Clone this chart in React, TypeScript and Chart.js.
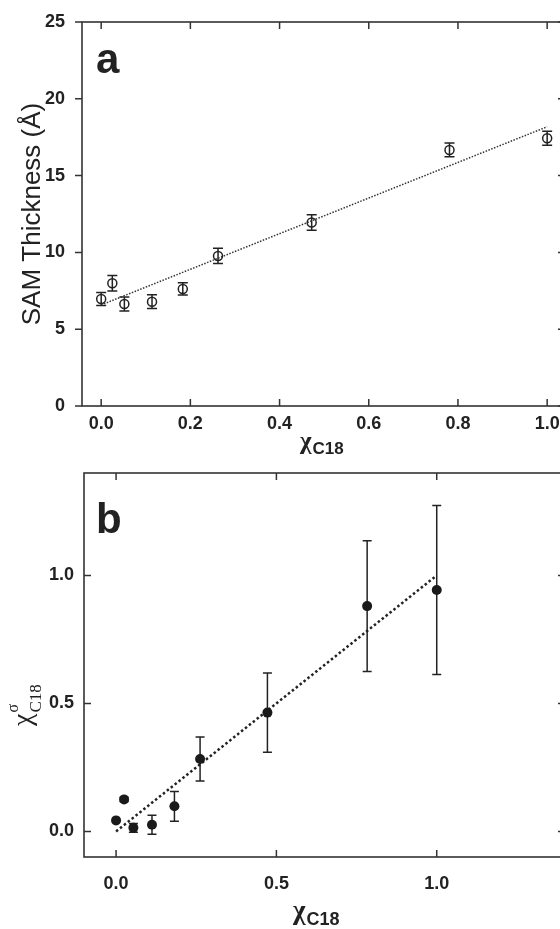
import React, { useEffect, useRef } from "react";
import { Chart, registerables } from "chart.js";

Chart.register(...registerables);

// ---------- Panel a: SAM thickness vs chi_C18 ----------
const A_X = [0.0, 0.025, 0.052, 0.114, 0.183, 0.262, 0.472, 0.781, 1.0];
const A_Y = [6.97, 7.99, 6.64, 6.79, 7.62, 9.77, 11.95, 16.67, 17.43];
const A_ERR = [0.42, 0.5, 0.45, 0.45, 0.4, 0.5, 0.5, 0.45, 0.45];
const A_FIT_X = [0, 1];
const A_FIT_Y = [6.58, 18.18];
const A_XTICKS = [0, 0.2, 0.4, 0.6, 0.8, 1.0];
const A_YTICKS = [0, 5, 10, 15, 20, 25];

// ---------- Panel b: chi^sigma_C18 vs chi_C18 ----------
const B_X = [0.0, 0.025, 0.054, 0.112, 0.182, 0.262, 0.472, 0.783, 1.0];
const B_Y = [0.043, 0.125, 0.014, 0.026, 0.098, 0.283, 0.464, 0.88, 0.943];
const B_ERR = [0, 0.008, 0.017, 0.037, 0.058, 0.086, 0.155, 0.255, 0.33];
const B_FIT_X = [0, 1];
const B_FIT_Y = [0, 1];
const B_XTICKS = [0, 0.5, 1.0];
const B_YTICKS = [0, 0.5, 1.0];

const INK = "#222";
const SANS = "'Liberation Sans', Arial, sans-serif";
const SERIF = "'Liberation Serif', 'Times New Roman', serif";

function makeFrame(xTicks: number[], yTicks: number[], leftOut: boolean) {
  return {
    id: "frame",
    afterDraw(chart: any) {
      const { ctx, chartArea: ca, scales } = chart;
      const tl = 7;
      ctx.save();
      ctx.strokeStyle = "#333";
      ctx.lineWidth = 1.6;
      ctx.strokeRect(ca.left, ca.top, ca.right - ca.left, ca.bottom - ca.top);
      ctx.lineWidth = 1.5;
      ctx.beginPath();
      for (const v of xTicks) {
        const px = scales.x.getPixelForValue(v);
        ctx.moveTo(px, ca.bottom);
        ctx.lineTo(px, ca.bottom - tl);
        ctx.moveTo(px, ca.top);
        ctx.lineTo(px, ca.top + tl);
      }
      for (const v of yTicks) {
        const py = scales.y.getPixelForValue(v);
        ctx.moveTo(ca.left, py);
        ctx.lineTo(leftOut ? ca.left - tl : ca.left + tl, py);
        ctx.moveTo(ca.right, py);
        ctx.lineTo(ca.right - tl, py);
      }
      ctx.stroke();
      ctx.restore();
    },
  };
}

function makeErrorBars(xs: number[], ys: number[], errs: number[], cap: number, lw: number) {
  return {
    id: "errbars",
    beforeDatasetsDraw(chart: any) {
      const { ctx, scales } = chart;
      ctx.save();
      ctx.strokeStyle = INK;
      ctx.lineWidth = lw;
      ctx.beginPath();
      for (let i = 0; i < xs.length; i++) {
        if (!(errs[i] > 0)) continue;
        const px = scales.x.getPixelForValue(xs[i]);
        const pt = scales.y.getPixelForValue(ys[i] + errs[i]);
        const pb = scales.y.getPixelForValue(ys[i] - errs[i]);
        ctx.moveTo(px, pt);
        ctx.lineTo(px, pb);
        ctx.moveTo(px - cap, pt);
        ctx.lineTo(px + cap, pt);
        ctx.moveTo(px - cap, pb);
        ctx.lineTo(px + cap, pb);
      }
      ctx.stroke();
      ctx.restore();
    },
  };
}

function drawChiTitle(ctx: CanvasRenderingContext2D, x: number, baseline: number, chiSize: number, subSize: number) {
  ctx.save();
  ctx.fillStyle = INK;
  ctx.textBaseline = "alphabetic";
  ctx.textAlign = "left";
  ctx.font = `bold ${chiSize}px ${SERIF}`;
  const m = ctx.measureText("\u03c7");
  const desc = m.actualBoundingBoxDescent || 0;
  ctx.fillText("\u03c7", x, baseline - desc);
  const w = m.width;
  ctx.font = `bold ${subSize}px ${SANS}`;
  ctx.fillText("C18", x + w + 1, baseline);
  ctx.restore();
}

const titlesA = {
  id: "titlesA",
  afterDraw(chart: any) {
    const { ctx, chartArea: ca } = chart;
    ctx.save();
    ctx.fillStyle = INK;
    // y title
    ctx.translate(40, (ca.top + ca.bottom) / 2);
    ctx.rotate(-Math.PI / 2);
    ctx.font = `26px ${SANS}`;
    ctx.textAlign = "center";
    ctx.textBaseline = "alphabetic";
    ctx.fillText("SAM Thickness (\u00c5)", 0, 0);
    ctx.restore();
    // panel label
    ctx.save();
    ctx.fillStyle = INK;
    ctx.font = `bold 42px ${SANS}`;
    ctx.textAlign = "left";
    ctx.textBaseline = "alphabetic";
    ctx.fillText("a", 96, 73);
    ctx.restore();
    drawChiTitle(ctx, 300, ca.bottom + 48, 25, 17);
  },
};

const titlesB = {
  id: "titlesB",
  afterDraw(chart: any) {
    const { ctx, chartArea: ca } = chart;
    // y title: chi with superscript sigma and subscript C18, rotated
    ctx.save();
    ctx.fillStyle = INK;
    ctx.translate(31, 261);
    ctx.rotate(-Math.PI / 2);
    ctx.textAlign = "left";
    ctx.textBaseline = "alphabetic";
    ctx.font = `28px ${SERIF}`;
    const w = ctx.measureText("\u03c7").width;
    ctx.fillText("\u03c7", 0, 0);
    ctx.font = `17px ${SERIF}`;
    ctx.fillText("C18", w + 1, 10);
    ctx.font = `16px ${SERIF}`;
    ctx.fillText("\u03c3", w + 1, -13);
    ctx.restore();
    // panel label
    ctx.save();
    ctx.fillStyle = INK;
    ctx.font = `bold 42px ${SANS}`;
    ctx.textAlign = "left";
    ctx.textBaseline = "alphabetic";
    ctx.fillText("b", 96, 68);
    ctx.restore();
    drawChiTitle(ctx, 293, ca.bottom + 68, 27, 18);
  },
};

function tickFont() {
  return { family: SANS, size: 18, weight: "bold" as const };
}

function buildConfig(opts: {
  xs: number[];
  ys: number[];
  fitX: number[];
  fitY: number[];
  xTicks: number[];
  yTicks: number[];
  xMin: number;
  xMax: number;
  yMin: number;
  yMax: number;
  yWidth: number;
  xHeight: number;
  padTop: number;
  padRight: number;
  filled: boolean;
  yFmt: (v: number) => string;
  yPad: number;
  xPad: number;
  fitWidth: number;
  fitDash: number[];
  plugins: any[];
}) {
  const pts = opts.xs.map((x, i) => ({ x, y: opts.ys[i] }));
  const fit = opts.fitX.map((x, i) => ({ x, y: opts.fitY[i] }));
  return {
    type: "scatter" as const,
    data: {
      datasets: [
        {
          data: pts,
          showLine: false,
          pointRadius: opts.filled ? 5 : 4.5,
          pointBorderWidth: opts.filled ? 0 : 1.5,
          pointBackgroundColor: opts.filled ? "#1a1a1a" : "rgba(0,0,0,0)",
          pointBorderColor: INK,
        },
        {
          data: fit,
          showLine: true,
          borderColor: opts.filled ? "#222" : "#333",
          borderWidth: opts.fitWidth,
          borderDash: opts.fitDash,
          pointRadius: 0,
          fill: false,
        },
      ],
    },
    options: {
      animation: false as const,
      responsive: false,
      devicePixelRatio: 1,
      layout: { padding: { top: opts.padTop, right: opts.padRight, left: 0, bottom: 0 } },
      plugins: { legend: { display: false }, tooltip: { enabled: false } },
      scales: {
        x: {
          type: "linear" as const,
          min: opts.xMin,
          max: opts.xMax,
          grid: { display: false },
          border: { display: false },
          afterBuildTicks: (s: any) => {
            s.ticks = opts.xTicks.map((v) => ({ value: v }));
          },
          afterFit: (s: any) => {
            s.height = opts.xHeight;
            s.paddingLeft = 0;
            s.paddingRight = 0;
          },
          ticks: {
            font: tickFont(),
            color: INK,
            padding: opts.xPad,
            maxRotation: 0,
            autoSkip: false,
            callback: (v: any) => Number(v).toFixed(1),
          },
        },
        y: {
          type: "linear" as const,
          min: opts.yMin,
          max: opts.yMax,
          grid: { display: false },
          border: { display: false },
          afterBuildTicks: (s: any) => {
            s.ticks = opts.yTicks.map((v) => ({ value: v }));
          },
          afterFit: (s: any) => {
            s.width = opts.yWidth;
            s.paddingTop = 0;
            s.paddingBottom = 0;
          },
          ticks: {
            font: tickFont(),
            color: INK,
            padding: opts.yPad,
            autoSkip: false,
            callback: (v: any) => opts.yFmt(Number(v)),
          },
        },
      },
    },
    plugins: opts.plugins,
  };
}

export default function App() {
  const refA = useRef<HTMLCanvasElement>(null);
  const refB = useRef<HTMLCanvasElement>(null);

  useEffect(() => {
    const cfgA = buildConfig({
      xs: A_X,
      ys: A_Y,
      fitX: A_FIT_X,
      fitY: A_FIT_Y,
      xTicks: A_XTICKS,
      yTicks: A_YTICKS,
      xMin: -0.043,
      xMax: 1.04,
      yMin: 0,
      yMax: 25,
      yWidth: 82,
      xHeight: 59,
      padTop: 22,
      padRight: 35,
      filled: false,
      yFmt: (v) => String(v),
      yPad: 9,
      xPad: -1,
      fitWidth: 1.5,
      fitDash: [1.5, 1.5],
      plugins: [makeErrorBars(A_X, A_Y, A_ERR, 5, 1.5), makeFrame(A_XTICKS, A_YTICKS, true), titlesA],
    });
    const cfgB = buildConfig({
      xs: B_X,
      ys: B_Y,
      fitX: B_FIT_X,
      fitY: B_FIT_Y,
      xTicks: B_XTICKS,
      yTicks: B_YTICKS,
      xMin: -0.1,
      xMax: 1.4,
      yMin: -0.1,
      yMax: 1.4,
      yWidth: 84,
      xHeight: 72,
      padTop: 8,
      padRight: 35,
      filled: true,
      yFmt: (v) => v.toFixed(1),
      yPad: 2,
      xPad: 8,
      fitWidth: 2.5,
      fitDash: [2.5, 2.5],
      plugins: [makeErrorBars(B_X, B_Y, B_ERR, 4.5, 1.5), makeFrame(B_XTICKS, B_YTICKS, false), titlesB],
    });
    const a = new Chart(refA.current as HTMLCanvasElement, cfgA as any);
    const b = new Chart(refB.current as HTMLCanvasElement, cfgB as any);
    return () => {
      a.destroy();
      b.destroy();
    };
  }, []);

  return (
    <div
      style={{
        position: "absolute",
        left: 0,
        top: 0,
        width: 560,
        height: 929,
        overflow: "hidden",
        background: "#fff",
      }}
    >
      <canvas
        ref={refA}
        width={600}
        height={465}
        style={{ position: "absolute", left: 0, top: 0, width: 600, height: 465 }}
      />
      <canvas
        ref={refB}
        width={600}
        height={464}
        style={{ position: "absolute", left: 0, top: 465, width: 600, height: 464 }}
      />
    </div>
  );
}
